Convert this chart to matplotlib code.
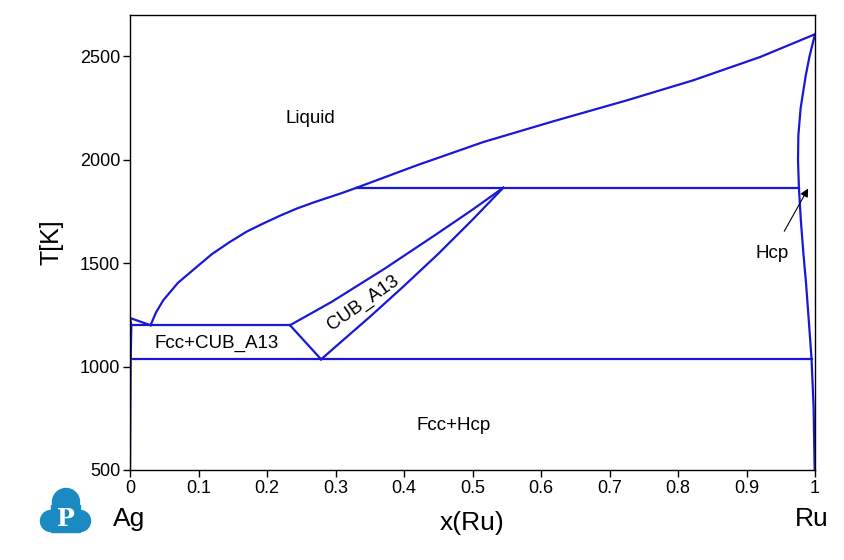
"""
Ag-Ru binary phase diagram, redrawn with matplotlib.
"""

import matplotlib.pyplot as plt
from matplotlib.patches import Circle, Rectangle

plt.rcParams['font.family'] = ['Liberation Sans', 'DejaVu Sans']

# Phase boundaries (x = mole fraction Ru, T in K)
liq_low_x = [0.030, 0.038, 0.0486, 0.07, 0.0974, 0.12, 0.146, 0.17, 0.1946,
             0.22, 0.2434, 0.27, 0.292, 0.31, 0.331]
liq_low_t = [1200, 1262, 1321, 1405, 1482, 1545, 1603, 1652, 1692,
             1731, 1764, 1796, 1820, 1840, 1865]

liq_high_x = [0.331, 0.4185, 0.516, 0.62, 0.725, 0.822, 0.92, 1.0]
liq_high_t = [1865, 1973, 2086, 2188, 2287, 2384, 2497, 2607]

ag_liq_x = [0.0, 0.030]
ag_liq_t = [1235, 1200]

fcc_x = [0.0, 0.002, 0.001, 0.0]
fcc_t = [1235, 1200, 1035, 500]

hcp_x = [1.0, 0.992, 0.9865, 0.979, 0.9757, 0.9752, 0.9765, 0.9795,
         0.983, 0.987, 0.991, 0.995, 0.998, 0.9995]
hcp_t = [2607, 2500, 2408, 2249, 2118, 2000, 1865, 1700,
         1550, 1400, 1220, 1035, 800, 500]

cub_left_x = [0.2336, 0.2944, 0.372, 0.445, 0.4988, 0.545]
cub_left_t = [1200, 1313, 1474, 1635, 1756, 1865]

cub_right_x = [0.279, 0.31, 0.35, 0.40, 0.45, 0.50, 0.545]
cub_right_t = [1035, 1125, 1240, 1390, 1545, 1710, 1865]

cub_link_x = [0.2336, 0.279]
cub_link_t = [1200, 1035]

# invariant lines: (T, x_start, x_end)
invariants = [(1200, 0.002, 0.2336), (1035, 0.001, 0.995), (1865, 0.331, 0.9765)]

# region labels: (text, x, T, rotation)
labels = [('Liquid', 0.263, 2200, 0), ('Fcc+CUB_A13', 0.127, 1113, 0),
          ('CUB_A13', 0.341, 1305, 35), ('Fcc+Hcp', 0.473, 717, 0)]

x_ticks = [0, 0.1, 0.2, 0.3, 0.4, 0.5, 0.6, 0.7, 0.8, 0.9, 1]
x_tick_labels = ['0', '0.1', '0.2', '0.3', '0.4', '0.5', '0.6', '0.7', '0.8', '0.9', '1']
y_ticks = [500, 1000, 1500, 2000, 2500]


def main():
    fig = plt.figure(figsize=(8.44, 5.6), dpi=100)
    ax = fig.add_axes([130 / 844, 90 / 560, 685 / 844, 455 / 560])

    line_color = '#1818d6'
    lw = 1.6
    for xs, ts in [(liq_low_x, liq_low_t), (liq_high_x, liq_high_t),
                   (ag_liq_x, ag_liq_t), (fcc_x, fcc_t), (hcp_x, hcp_t),
                   (cub_left_x, cub_left_t), (cub_right_x, cub_right_t),
                   (cub_link_x, cub_link_t)]:
        ax.plot(xs, ts, color=line_color, lw=lw, solid_joinstyle='round')
    for t, x0, x1 in invariants:
        ax.plot([x0, x1], [t, t], color=line_color, lw=lw)

    for txt, x, t, rot in labels:
        ax.text(x, t, txt, ha='center', va='center', fontsize=13.5, rotation=rot,
                rotation_mode='anchor')

    # Hcp label with arrow
    ax.annotate('Hcp', xy=(0.990, 1861), xytext=(0.937, 1547),
                ha='center', va='center', fontsize=13.5,
                arrowprops=dict(arrowstyle='-|>', color='black', lw=0.8,
                                shrinkA=9, shrinkB=0, mutation_scale=12))

    ax.set_xlim(0, 1)
    ax.set_ylim(500, 2700)
    ax.set_xticks(x_ticks)
    ax.set_xticklabels(x_tick_labels)
    ax.set_yticks(y_ticks)
    ax.tick_params(direction='out', length=5, width=1, labelsize=13, pad=2)
    for sp in ax.spines.values():
        sp.set_linewidth(1)

    ax.set_xlabel('x(Ru)', fontsize=19, labelpad=10)
    ax.set_ylabel('T[K]', fontsize=18, labelpad=12)

    # element names below the axis ends
    fig.text(129 / 844, 1 - 519 / 560, 'Ag', fontsize=19, ha='center', va='center')
    fig.text(812 / 844, 1 - 519 / 560, 'Ru', fontsize=19, ha='center', va='center')

    # logo: blue cloud with a white P
    logo = fig.add_axes([0, 0, 1, 1], facecolor='none')
    logo.set_xlim(0, 844)
    logo.set_ylim(560, 0)
    logo.axis('off')
    blue = '#1b8ac2'
    logo.add_patch(Circle((66, 502), 13.5, color=blue))
    logo.add_patch(Circle((51, 521), 10.5, color=blue))
    logo.add_patch(Circle((80, 521), 10.5, color=blue))
    logo.add_patch(Rectangle((51, 505), 29, 26.5, color=blue))
    logo.text(65.5, 519, 'P', fontsize=17, fontweight='bold', color='white',
              family='DejaVu Serif', ha='center', va='center')

    fig.savefig('out.png', dpi=100)


if __name__ == "__main__":
    main()
